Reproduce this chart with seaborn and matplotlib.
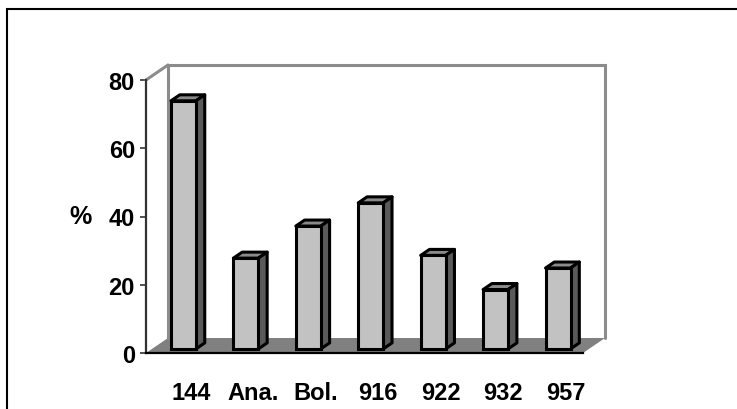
import matplotlib
matplotlib.use("Agg")
import matplotlib.pyplot as plt
from matplotlib.patches import Polygon, Rectangle
import numpy as np
import pandas as pd
import seaborn as sns

# Share of each line (%)
categories = ["144", "Ana.", "Bol.", "916", "922", "932", "957"]
percent = [72.7, 26.6, 36.0, 42.8, 27.4, 17.4, 23.7]
y_ticks = [0, 20, 40, 60, 80]
y_label = "%"

sns.set_theme(style="white")
plt.rcParams["font.family"] = ["Liberation Sans", "DejaVu Sans"]
plt.rcParams["text.color"] = "black"
plt.rcParams["xtick.color"] = "black"
plt.rcParams["ytick.color"] = "black"
plt.rcParams["axes.labelcolor"] = "black"

W, H, DPI = 737, 410, 100
fig = plt.figure(figsize=(W / DPI, H / DPI), dpi=DPI)
fig.patch.set_facecolor("white")

# front plane of the chart box, in pixels
left_px, right_px, top_px, bottom_px = 146, 583, 81, 354
ax = fig.add_axes([left_px / W, 1 - bottom_px / H,
                   (right_px - left_px) / W, (bottom_px - top_px) / H])
n = len(categories)
ax.set_xlim(-0.5, n - 0.5)
ax.set_ylim(0, 80)

# depth of the box, in data units (22 px right, 15 px up)
px_x = (right_px - left_px) / n
px_y = (bottom_px - top_px) / 80
dep_x, dep_y = 22 / px_x, 15 / px_y

grey = "#8c8c8c"
ymax = y_ticks[-1]
x0, x1 = -0.5, n - 0.5

# floor
ax.add_patch(Polygon([(x0, 0), (x1, 0), (x1 + dep_x, dep_y), (x0 + dep_x, dep_y)],
                     closed=True, facecolor="#808080", edgecolor="none",
                     clip_on=False, zorder=1))
# back wall and left wall outline
ax.plot([x0 + dep_x, x0 + dep_x, x1 + dep_x, x1 + dep_x],
        [dep_y, ymax + dep_y, ymax + dep_y, dep_y],
        color=grey, lw=2.2, clip_on=False, zorder=1, solid_joinstyle="miter")
ax.plot([x0, x0 + dep_x], [ymax, ymax + dep_y], color=grey, lw=2.2,
        clip_on=False, zorder=1)

# bars: front faces through seaborn
df = pd.DataFrame({"cat": categories, "pct": percent})
sns.barplot(data=df, x="cat", y="pct", ax=ax, width=0.4, color="#c2c2c2",
            saturation=1, edgecolor="black", linewidth=2.2, zorder=3)

# push the bars back into the box and add top and side faces
front_dx, front_dy = 0.1, 1.2
bar_dx, bar_dy = 0.4 * dep_x, 0.4 * dep_y
for p in ax.patches:
    if not isinstance(p, Rectangle) or p.get_height() <= 0:
        continue
    p.set_x(p.get_x() + front_dx)
    p.set_y(p.get_y() + front_dy)
    p.set_clip_on(False)
    bx, by, bw, bh = p.get_x(), p.get_y(), p.get_width(), p.get_height()
    top = [(bx, by + bh), (bx + bw, by + bh),
           (bx + bw + bar_dx, by + bh + bar_dy), (bx + bar_dx, by + bh + bar_dy)]
    side = [(bx + bw, by), (bx + bw + bar_dx, by + bar_dy),
            (bx + bw + bar_dx, by + bh + bar_dy), (bx + bw, by + bh)]
    ax.add_patch(Polygon(top, closed=True, facecolor="#8a8a8a", edgecolor="black",
                         lw=2.2, clip_on=False, zorder=2.5, joinstyle="round"))
    ax.add_patch(Polygon(side, closed=True, facecolor="#5a5a5a", edgecolor="black",
                         lw=2.2, clip_on=False, zorder=2.5, joinstyle="round"))

# axes styling
for s in ["top", "right"]:
    ax.spines[s].set_visible(False)
ax.spines["left"].set_color("#333333")
ax.spines["left"].set_linewidth(1.6)
ax.spines["bottom"].set_color("black")
ax.spines["bottom"].set_linewidth(1.6)
ax.set_facecolor("none")

fs = 17
ax.set_yticks(y_ticks)
ax.set_yticklabels([str(t) for t in y_ticks], fontsize=fs, fontweight="bold",
                   color="black")
ax.tick_params(axis="y", left=True, length=4, width=1.2, color="#333333", pad=4)
ax.set_xticks(np.arange(n) + 0.22)
ax.set_xticklabels(categories, fontsize=fs, fontweight="bold", color="black")
ax.tick_params(axis="x", bottom=False, pad=14)
ax.set_xlabel("")
ax.set_ylabel(y_label, fontsize=fs + 1, fontweight="bold", rotation=0,
              va="center", ha="center", color="black")
ax.yaxis.set_label_coords((80 - left_px) / (right_px - left_px),
                          (bottom_px - 217) / (bottom_px - top_px))

# outer chart frame
fig.patches.append(Rectangle((7 / W, -0.1), 1.2, 1 - 10 / H + 0.1,
                             transform=fig.transFigure, fill=False,
                             edgecolor="black", lw=1.5, zorder=0))

fig.savefig("out.png", dpi=DPI, facecolor="white")
